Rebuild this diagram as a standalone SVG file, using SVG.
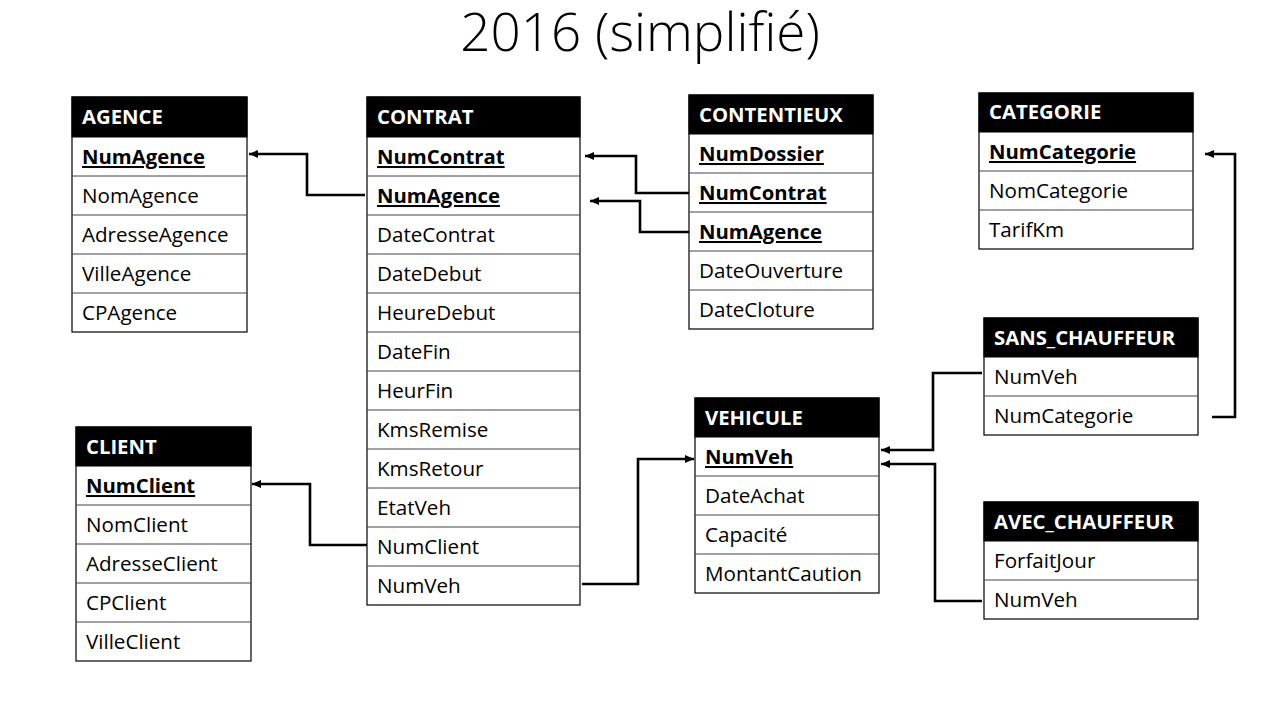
<svg xmlns="http://www.w3.org/2000/svg" width="1280" height="720" viewBox="0 0 1280 720">
<defs>
<marker id="arr" markerUnits="userSpaceOnUse" markerWidth="10" markerHeight="8" refX="9" refY="4" orient="auto">
<path d="M0,0 L9,4 L0,8 z" fill="#000"/>
</marker>
<style>
text{font-family:"Open Sans","Liberation Sans",sans-serif;}
.title{font-size:53px;font-weight:300;fill:#000;}
.hdr{fill:#000;stroke:#000;stroke-width:1;}
.ht{font-size:20.3px;font-weight:700;fill:#fff;}
.box{fill:#fff;stroke:#000;stroke-width:1.2;}
.sep{stroke:#444;stroke-width:1;}
.rt{font-size:20.6px;fill:#000;}
.pk{font-size:20.3px;font-weight:700;fill:#000;text-decoration:underline;}
.con{fill:none;stroke:#000;stroke-width:2.6;marker-end:url(#arr);}
</style>
</defs>
<rect width="1280" height="720" fill="#fff"/>
<text class="title" x="640" y="51" text-anchor="middle">2016 (simplifié)</text>

<g id="agence">
<rect class="box" x="72" y="97" width="175" height="235"/>
<rect class="hdr" x="72" y="97" width="175" height="40"/>
<text class="ht" x="82" y="124">AGENCE</text>
<line class="sep" x1="72" y1="176" x2="247" y2="176"/>
<line class="sep" x1="72" y1="215" x2="247" y2="215"/>
<line class="sep" x1="72" y1="254" x2="247" y2="254"/>
<line class="sep" x1="72" y1="293" x2="247" y2="293"/>
<text class="pk" x="82" y="164">NumAgence</text>
<text class="rt" x="82" y="203">NomAgence</text>
<text class="rt" x="82" y="242">AdresseAgence</text>
<text class="rt" x="82" y="281">VilleAgence</text>
<text class="rt" x="82" y="320">CPAgence</text>
</g>

<g id="contrat">
<rect class="box" x="367" y="97" width="213" height="508"/>
<rect class="hdr" x="367" y="97" width="213" height="40"/>
<text class="ht" x="377" y="124">CONTRAT</text>
<line class="sep" x1="367" y1="176" x2="580" y2="176"/>
<line class="sep" x1="367" y1="215" x2="580" y2="215"/>
<line class="sep" x1="367" y1="254" x2="580" y2="254"/>
<line class="sep" x1="367" y1="293" x2="580" y2="293"/>
<line class="sep" x1="367" y1="332" x2="580" y2="332"/>
<line class="sep" x1="367" y1="371" x2="580" y2="371"/>
<line class="sep" x1="367" y1="410" x2="580" y2="410"/>
<line class="sep" x1="367" y1="449" x2="580" y2="449"/>
<line class="sep" x1="367" y1="488" x2="580" y2="488"/>
<line class="sep" x1="367" y1="527" x2="580" y2="527"/>
<line class="sep" x1="367" y1="566" x2="580" y2="566"/>
<text class="pk" x="377" y="164">NumContrat</text>
<text class="pk" x="377" y="203">NumAgence</text>
<text class="rt" x="377" y="242">DateContrat</text>
<text class="rt" x="377" y="281">DateDebut</text>
<text class="rt" x="377" y="320">HeureDebut</text>
<text class="rt" x="377" y="359">DateFin</text>
<text class="rt" x="377" y="398">HeurFin</text>
<text class="rt" x="377" y="437">KmsRemise</text>
<text class="rt" x="377" y="476">KmsRetour</text>
<text class="rt" x="377" y="515">EtatVeh</text>
<text class="rt" x="377" y="554">NumClient</text>
<text class="rt" x="377" y="593">NumVeh</text>
</g>

<g id="contentieux">
<rect class="box" x="689" y="95" width="184" height="234"/>
<rect class="hdr" x="689" y="95" width="184" height="39"/>
<text class="ht" x="699" y="122">CONTENTIEUX</text>
<line class="sep" x1="689" y1="173" x2="873" y2="173"/>
<line class="sep" x1="689" y1="212" x2="873" y2="212"/>
<line class="sep" x1="689" y1="251" x2="873" y2="251"/>
<line class="sep" x1="689" y1="290" x2="873" y2="290"/>
<text class="pk" x="699" y="161">NumDossier</text>
<text class="pk" x="699" y="200">NumContrat</text>
<text class="pk" x="699" y="239">NumAgence</text>
<text class="rt" x="699" y="278">DateOuverture</text>
<text class="rt" x="699" y="317">DateCloture</text>
</g>

<g id="categorie">
<rect class="box" x="979" y="93" width="214" height="156"/>
<rect class="hdr" x="979" y="93" width="214" height="39"/>
<text class="ht" x="989" y="119">CATEGORIE</text>
<line class="sep" x1="979" y1="171" x2="1193" y2="171"/>
<line class="sep" x1="979" y1="210" x2="1193" y2="210"/>
<text class="pk" x="989" y="159">NumCategorie</text>
<text class="rt" x="989" y="198">NomCategorie</text>
<text class="rt" x="989" y="237">TarifKm</text>
</g>

<g id="sans_chauffeur">
<rect class="box" x="984" y="318" width="214" height="117"/>
<rect class="hdr" x="984" y="318" width="214" height="39"/>
<text class="ht" x="994" y="345">SANS_CHAUFFEUR</text>
<line class="sep" x1="984" y1="396" x2="1198" y2="396"/>
<text class="rt" x="994" y="384">NumVeh</text>
<text class="rt" x="994" y="423">NumCategorie</text>
</g>

<g id="vehicule">
<rect class="box" x="695" y="398" width="184" height="195"/>
<rect class="hdr" x="695" y="398" width="184" height="39"/>
<text class="ht" x="705" y="425">VEHICULE</text>
<line class="sep" x1="695" y1="476" x2="879" y2="476"/>
<line class="sep" x1="695" y1="515" x2="879" y2="515"/>
<line class="sep" x1="695" y1="554" x2="879" y2="554"/>
<text class="pk" x="705" y="464">NumVeh</text>
<text class="rt" x="705" y="503">DateAchat</text>
<text class="rt" x="705" y="542">Capacité</text>
<text class="rt" x="705" y="581">MontantCaution</text>
</g>

<g id="avec_chauffeur">
<rect class="box" x="984" y="502" width="214" height="117"/>
<rect class="hdr" x="984" y="502" width="214" height="39"/>
<text class="ht" x="994" y="529">AVEC_CHAUFFEUR</text>
<line class="sep" x1="984" y1="580" x2="1198" y2="580"/>
<text class="rt" x="994" y="568">ForfaitJour</text>
<text class="rt" x="994" y="607">NumVeh</text>
</g>

<g id="client">
<rect class="box" x="76" y="427" width="175" height="234"/>
<rect class="hdr" x="76" y="427" width="175" height="39"/>
<text class="ht" x="86" y="454">CLIENT</text>
<line class="sep" x1="76" y1="505" x2="251" y2="505"/>
<line class="sep" x1="76" y1="544" x2="251" y2="544"/>
<line class="sep" x1="76" y1="583" x2="251" y2="583"/>
<line class="sep" x1="76" y1="622" x2="251" y2="622"/>
<text class="pk" x="86" y="493">NumClient</text>
<text class="rt" x="86" y="532">NomClient</text>
<text class="rt" x="86" y="571">AdresseClient</text>
<text class="rt" x="86" y="610">CPClient</text>
<text class="rt" x="86" y="649">VilleClient</text>
</g>

<g id="connectors">
<polyline class="con" points="365,195 307,195 307,154 249,154"/>
<polyline class="con" points="689,193 636,193 636,156 585,156"/>
<polyline class="con" points="689,232 640,232 640,201 590,201"/>
<polyline class="con" points="367,545 310,545 310,484 252,484"/>
<polyline class="con" points="582,584 638,584 638,459 694,459"/>
<polyline class="con" points="982,373 933,373 933,450 881,450"/>
<polyline class="con" points="982,601 935,601 935,464 881,464"/>
<polyline class="con" points="1212,417 1235,417 1235,154 1205,154"/>
</g>
</svg>
